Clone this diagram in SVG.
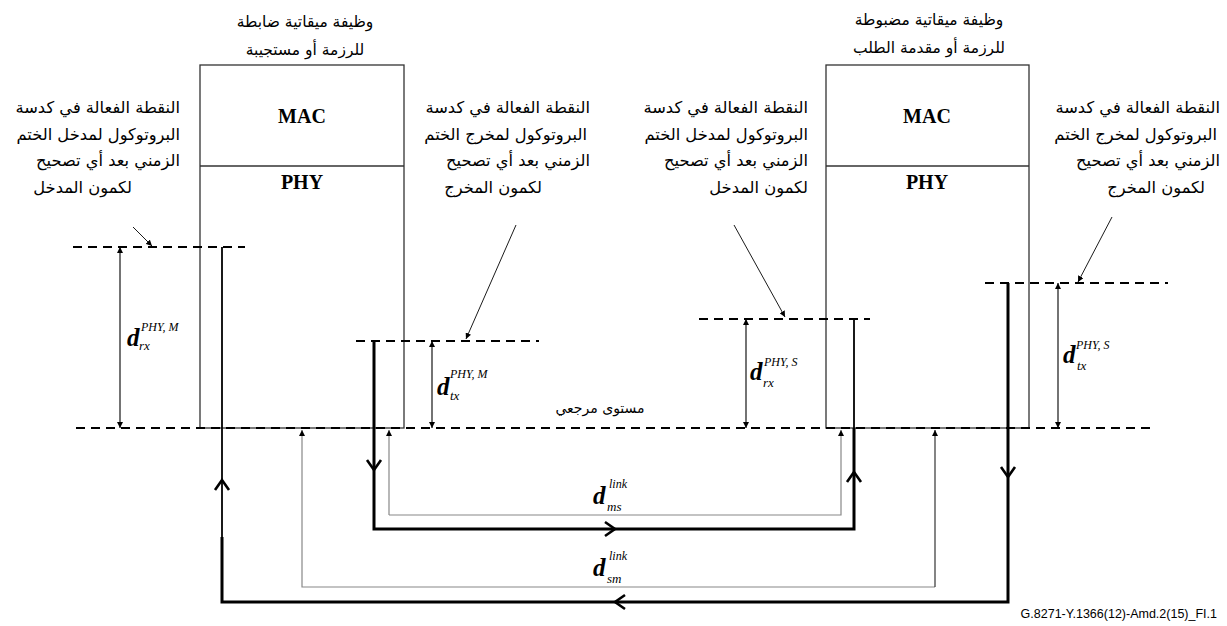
<svg xmlns="http://www.w3.org/2000/svg" width="1227" height="626" viewBox="0 0 1227 626">
<style>
.ar{font-family:"DejaVu Sans",sans-serif;font-size:16.3px;fill:#000}
.tt{font-size:15.5px}
.box{fill:none;stroke:#333;stroke-width:1.3}
.layer{font-family:"Liberation Serif",serif;font-weight:bold;font-size:20px;fill:#000}
.dash{fill:none;stroke:#000;stroke-width:2;stroke-dasharray:9 6}
.dim{fill:none;stroke:#000;stroke-width:1.1;marker-start:url(#tri);marker-end:url(#tri)}
.ptr{fill:none;stroke:#000;stroke-width:0.9;marker-end:url(#tri)}
.thick{fill:none;stroke:#000;stroke-width:3}
.mid{fill:none;stroke:#000;stroke-width:1.8}
.thinA{fill:none;stroke:#888;stroke-width:1.2;marker-end:url(#tri)}
.thinB{fill:none;stroke:#333;stroke-width:1.2;marker-end:url(#tri)}
.chev{fill:none;stroke:#000;stroke-width:2.6}
.d{font-family:"Liberation Serif",serif;font-style:italic;font-weight:bold;font-size:25px}
.sup{font-family:"Liberation Serif",serif;font-style:italic;font-size:12px}
.sub{font-family:"Liberation Serif",serif;font-style:italic;font-size:13px}
.foot{font-family:"Liberation Sans",sans-serif;font-size:12.5px}
</style>
<defs>
<marker id="tri" viewBox="0 0 10 10" refX="10" refY="5" markerWidth="6" markerHeight="6" markerUnits="userSpaceOnUse" orient="auto-start-reverse"><path d="M0,0 L10,5 L0,10 z" fill="#000"/></marker>
<path id="chev" d="M-7,-10 L0,0 L7,-10"/>
</defs>

<g id="master">
<rect class="box" x="200" y="65" width="204" height="363"/>
<line class="box" x1="200" y1="166" x2="404" y2="166"/>
<text class="layer" x="302" y="123" text-anchor="middle">MAC</text>
<text class="layer" x="302" y="189" text-anchor="middle">PHY</text>
<text class="ar tt" x="305" y="27" text-anchor="middle">وظيفة ميقاتية ضابطة</text>
<text class="ar tt" x="305" y="55" text-anchor="middle">للرزمة أو مستجيبة</text>
</g>

<g id="slave">
<rect class="box" x="826" y="65" width="203" height="363"/>
<line class="box" x1="826" y1="166" x2="1029" y2="166"/>
<text class="layer" x="927" y="123" text-anchor="middle">MAC</text>
<text class="layer" x="927" y="189" text-anchor="middle">PHY</text>
<text class="ar tt" x="929" y="25" text-anchor="middle">وظيفة ميقاتية مضبوطة</text>
<text class="ar tt" x="929" y="53" text-anchor="middle">للرزمة أو مقدمة الطلب</text>
</g>

<g id="note-master-rx">
<text class="ar" x="180" y="113" text-anchor="end">النقطة الفعالة في كدسة</text>
<text class="ar" x="180" y="140" text-anchor="end">البروتوكول لمدخل الختم</text>
<text class="ar" x="180" y="166" text-anchor="end">الزمني بعد أي تصحيح</text>
<text class="ar" x="132" y="193" text-anchor="end">لكمون المدخل</text>
</g>

<g id="note-master-tx">
<text class="ar" x="590" y="113" text-anchor="end">النقطة الفعالة في كدسة</text>
<text class="ar" x="587" y="140" text-anchor="end">البروتوكول لمخرج الختم</text>
<text class="ar" x="590" y="166" text-anchor="end">الزمني بعد أي تصحيح</text>
<text class="ar" x="542" y="193" text-anchor="end">لكمون المخرج</text>
</g>

<g id="note-slave-rx">
<text class="ar" x="808" y="113" text-anchor="end">النقطة الفعالة في كدسة</text>
<text class="ar" x="808" y="140" text-anchor="end">البروتوكول لمدخل الختم</text>
<text class="ar" x="808" y="166" text-anchor="end">الزمني بعد أي تصحيح</text>
<text class="ar" x="808" y="193" text-anchor="end">لكمون المدخل</text>
</g>

<g id="note-slave-tx">
<text class="ar" x="1220" y="113" text-anchor="end">النقطة الفعالة في كدسة</text>
<text class="ar" x="1217" y="140" text-anchor="end">البروتوكول لمخرج الختم</text>
<text class="ar" x="1220" y="166" text-anchor="end">الزمني بعد أي تصحيح</text>
<text class="ar" x="1205" y="193" text-anchor="end">لكمون المخرج</text>
</g>

<g id="reference-plane">
<line class="dash" x1="76" y1="428" x2="1153" y2="428"/>
<text class="ar" x="600" y="413" text-anchor="middle" style="font-size:14px">مستوى مرجعي</text>
</g>

<g id="labels">
<text x="127" y="346"><tspan class="d">d</tspan></text>
<text class="sup" x="141" y="331">PHY, M</text>
<text class="sub" x="139" y="350">rx</text>

<text x="437" y="395"><tspan class="d">d</tspan></text>
<text class="sup" x="450" y="378">PHY, M</text>
<text class="sub" x="450" y="400">tx</text>

<text x="750" y="380"><tspan class="d">d</tspan></text>
<text class="sup" x="764" y="366">PHY, S</text>
<text class="sub" x="763" y="387">rx</text>

<text x="1063" y="363"><tspan class="d">d</tspan></text>
<text class="sup" x="1076" y="349">PHY, S</text>
<text class="sub" x="1077" y="370">tx</text>

<text x="593" y="504"><tspan class="d">d</tspan></text>
<text class="sup" x="609" y="488">link</text>
<text class="sub" x="607" y="511">ms</text>

<text x="593" y="576"><tspan class="d">d</tspan></text>
<text class="sup" x="609" y="560">link</text>
<text class="sub" x="607" y="583">sm</text>

<text class="foot" x="1217" y="618" text-anchor="end">G.8271-Y.1366(12)-Amd.2(15)_FI.1</text>
</g>

<g id="connectors">
<line class="dash" x1="73" y1="247" x2="245" y2="247"/>
<line class="dash" x1="356" y1="341" x2="539" y2="341"/>
<line class="dash" x1="699" y1="319" x2="870" y2="319"/>
<line class="dash" x1="985" y1="283" x2="1168" y2="283"/>

<line class="dim" x1="120" y1="247" x2="120" y2="428"/>
<line class="dim" x1="432" y1="341" x2="432" y2="428"/>
<line class="dim" x1="746" y1="319" x2="746" y2="428"/>
<line class="dim" x1="1058" y1="283" x2="1058" y2="428"/>

<line class="ptr" x1="133" y1="227" x2="152" y2="246"/>
<line class="ptr" x1="516" y1="225" x2="466" y2="339"/>
<line class="ptr" x1="734" y1="225" x2="785" y2="317"/>
<line class="ptr" x1="1112" y1="217" x2="1078" y2="282"/>

<path class="mid" d="M222,247 V537"/>
<path class="thick" d="M222,537 V602 H1008 V283"/>
<path class="thick" d="M374,341 V529 H854 V428"/>
<path class="mid" d="M854,428 V319" stroke="#555"/>

<path class="thinA" d="M389,515 V430"/>
<path class="thinA" d="M389,515 H841 V430" stroke="#666"/>
<path class="thinA" d="M935,587 H302 V430" stroke="#555"/>
<path class="thinB" d="M935,587 V430"/>

<use href="#chev" class="chev" transform="translate(374,470)"/>
<use href="#chev" class="chev" transform="translate(615,529) rotate(-90)"/>
<use href="#chev" class="chev" transform="translate(854,472) rotate(180)"/>
<use href="#chev" class="chev" transform="translate(1008,477)"/>
<use href="#chev" class="chev" transform="translate(615,602) rotate(90)"/>
<use href="#chev" class="chev" transform="translate(222,480) rotate(180)"/>
</g>
</svg>
